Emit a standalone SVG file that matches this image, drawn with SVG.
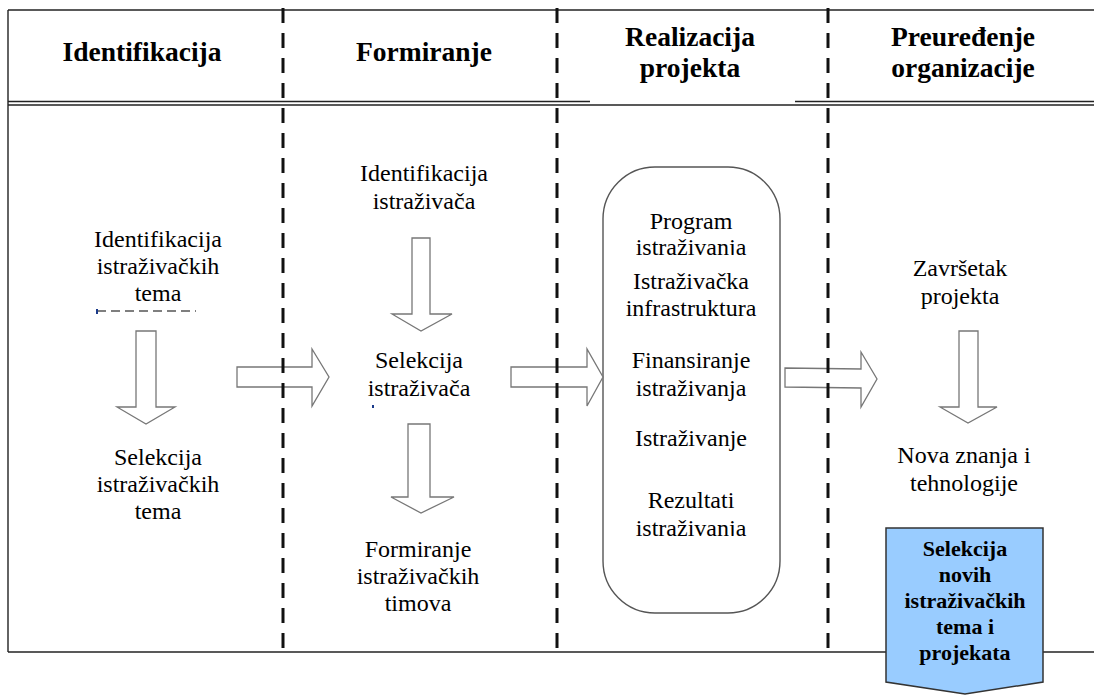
<svg xmlns="http://www.w3.org/2000/svg" width="1094" height="695" viewBox="0 0 1094 695">
  <defs>
    <style>
      .frame { stroke: #222; stroke-width: 1.4; fill: none; }
      .divider { stroke: #111; stroke-width: 3; stroke-dasharray: 15 10; fill: none; }
      .head { font-family: "Liberation Serif", serif; font-weight: bold; font-size: 27.5px; fill: #000; text-anchor: middle; }
      .lbl { font-family: "Liberation Serif", serif; font-size: 24px; fill: #000; text-anchor: middle; }
      .tag { font-family: "Liberation Serif", serif; font-weight: bold; font-size: 22px; fill: #000; text-anchor: middle; }
      .arrow { fill: #fff; stroke: #777; stroke-width: 1.3; stroke-linejoin: miter; }
      .box { fill: #fff; stroke: #555; stroke-width: 1.4; }
    </style>
    <!-- clip rectangles that cut off descenders of some lines -->
    <clipPath id="clipProg"><rect x="600" y="100" width="200" height="155"/></clipPath>
    <clipPath id="clipInfra"><rect x="600" y="260" width="200" height="56"/></clipPath>
    <clipPath id="clipRez"><rect x="600" y="470" width="200" height="66"/></clipPath>
    <clipPath id="clipSel"><rect x="300" y="330" width="240" height="67"/></clipPath>
  </defs>

  <!-- table frame -->
  <g id="frame">
    <line class="frame" x1="8" y1="10" x2="1094" y2="10"/>
    <line class="frame" x1="8" y1="10" x2="8" y2="652"/>
    <line class="frame" x1="8" y1="101.5" x2="590" y2="101.5"/>
    <line class="frame" x1="795" y1="101.5" x2="1094" y2="101.5"/>
    <line class="frame" x1="8" y1="105" x2="1094" y2="105"/>
    <line class="frame" x1="8" y1="652" x2="886" y2="652"/>
    <line class="frame" x1="1043" y1="652" x2="1094" y2="652"/>
    <!-- faint marks of a hidden line of text -->
    <line x1="97" y1="311" x2="196" y2="311" stroke="#555" stroke-width="1.5" stroke-dasharray="9 5"/>
    <rect x="96" y="309" width="2" height="5" fill="#1a3a8a"/>
    <rect x="372" y="405" width="2" height="3" fill="#1a3a8a"/>
  </g>

  <!-- column headers -->
  <g id="headers">
    <text class="head" x="142" y="61">Identifikacija</text>
    <text class="head" x="424" y="61">Formiranje</text>
    <text class="head" x="690" y="46">Realizacija</text>
    <text class="head" x="690" y="77">projekta</text>
    <text class="head" x="963" y="46">Preuređenje</text>
    <text class="head" x="963" y="77">organizacije</text>
  </g>

  <!-- column 1 -->
  <g id="node-identifikacija-tema">
    <text class="lbl" x="158" y="247">Identifikacija</text>
    <text class="lbl" x="158" y="274">istraživačkih</text>
    <text class="lbl" x="158" y="301">tema</text>
  </g>
  <g id="node-selekcija-tema">
    <text class="lbl" x="158" y="465">Selekcija</text>
    <text class="lbl" x="158" y="492">istraživačkih</text>
    <text class="lbl" x="158" y="519">tema</text>
  </g>

  <!-- column 2 -->
  <g id="node-identifikacija-istrazivaca">
    <text class="lbl" x="424" y="181">Identifikacija</text>
    <text class="lbl" x="424" y="209">istraživača</text>
  </g>
  <g id="node-selekcija-istrazivaca">
    <text class="lbl" x="419" y="368">Selekcija</text>
    <text class="lbl" x="419" y="396" clip-path="url(#clipSel)">istraživača</text>
  </g>
  <g id="node-formiranje-timova">
    <text class="lbl" x="418" y="557">Formiranje</text>
    <text class="lbl" x="418" y="584">istraživačkih</text>
    <text class="lbl" x="418" y="611">timova</text>
  </g>

  <!-- column 3: project realisation block -->
  <g id="node-realizacija">
    <rect class="box" x="603" y="167" width="177" height="446" rx="52" ry="52"/>
    <text class="lbl" x="691" y="229">Program</text>
    <text class="lbl" x="691" y="255" clip-path="url(#clipProg)">istraživanja</text>
    <text class="lbl" x="691" y="289">Istraživačka</text>
    <text class="lbl" x="691" y="316" clip-path="url(#clipInfra)">infrastruktura</text>
    <text class="lbl" x="691" y="368">Finansiranje</text>
    <text class="lbl" x="691" y="396">istraživanja</text>
    <text class="lbl" x="691" y="446">Istraživanje</text>
    <text class="lbl" x="691" y="508">Rezultati</text>
    <text class="lbl" x="691" y="536" clip-path="url(#clipRez)">istraživanja</text>
  </g>

  <!-- column 4 -->
  <g id="node-zavrsetak">
    <text class="lbl" x="960" y="276">Završetak</text>
    <text class="lbl" x="960" y="304">projekta</text>
  </g>
  <g id="node-nova-znanja">
    <text class="lbl" x="964" y="463">Nova znanja i</text>
    <text class="lbl" x="964" y="491">tehnologije</text>
  </g>
  <g id="node-selekcija-novih">
    <polygon points="886,528 1043,528 1043,682 965,694 886,682" fill="#99ccff" stroke="#333" stroke-width="1.5"/>
    <text class="tag" x="965" y="556">Selekcija</text>
    <text class="tag" x="965" y="582">novih</text>
    <text class="tag" x="965" y="608">istraživačkih</text>
    <text class="tag" x="965" y="634">tema i</text>
    <text class="tag" x="965" y="660">projekata</text>
  </g>

  <!-- block arrows -->
  <g id="connectors">
    <!-- down arrows -->
    <polygon class="arrow" points="136,331 156,331 156,407 175,407 146,424 117,407 136,407"/>
    <polygon class="arrow" points="412,238 430,238 430,314 452,314 421,331 392,314 412,314"/>
    <polygon class="arrow" points="408,424 430,424 430,497 454,497 421,513 391,497 408,497"/>
    <polygon class="arrow" points="959,331 978,331 978,407 997,407 968,423 940,407 959,407"/>
    <!-- right arrows -->
    <polygon class="arrow" points="237,367 312,367 312,349 329,377 312,406 312,387 237,387"/>
    <polygon class="arrow" points="511,367 587,367 587,349 603,377 587,406 587,387 511,387"/>
    <polygon class="arrow" points="785,368 861,369 861,352 877,379 861,407 861,388 785,387"/>
  </g>

  <!-- dashed phase dividers -->
  <g id="dividers">
    <line class="divider" x1="283" y1="8" x2="283" y2="655"/>
    <line class="divider" x1="557" y1="8" x2="557" y2="655"/>
    <line class="divider" x1="828" y1="8" x2="828" y2="655"/>
  </g>
</svg>
